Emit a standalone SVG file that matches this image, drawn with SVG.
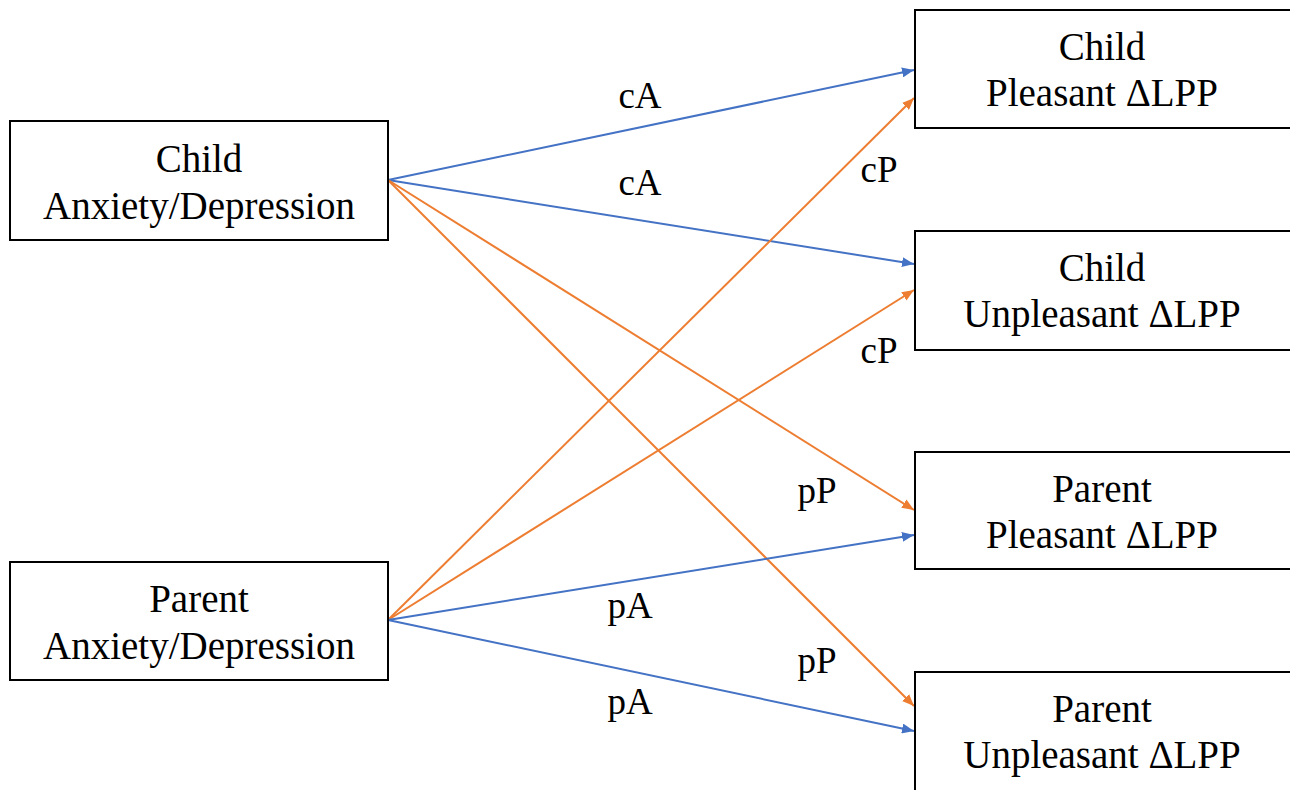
<svg xmlns="http://www.w3.org/2000/svg" width="1290" height="790" viewBox="0 0 1290 790">
<defs>
<style>
.box{fill:#fff;stroke:#000;stroke-width:2}
.t{font-family:"Liberation Serif","Times New Roman",serif;font-size:39px;fill:#000;text-anchor:middle}
.lb{font-family:"Liberation Serif","Times New Roman",serif;font-size:37px;fill:#000;text-anchor:middle}
.b{stroke:#4472C4;stroke-width:2;fill:none}
.o{stroke:#ED7D31;stroke-width:2;fill:none}
</style>
<marker id="ab" viewBox="0 0 12 10" refX="12" refY="5" markerWidth="12" markerHeight="10" markerUnits="userSpaceOnUse" orient="auto"><path d="M0,0 L12,5 L0,10 z" fill="#4472C4"/></marker>
<marker id="ao" viewBox="0 0 12 10" refX="12" refY="5" markerWidth="12" markerHeight="10" markerUnits="userSpaceOnUse" orient="auto"><path d="M0,0 L12,5 L0,10 z" fill="#ED7D31"/></marker>
</defs>
<rect width="1290" height="790" fill="#fff"/>
<g id="connectors">
<line class="b" x1="388" y1="180" x2="914" y2="70" marker-end="url(#ab)"/>
<line class="b" x1="388" y1="180" x2="914" y2="264" marker-end="url(#ab)"/>
<line class="o" x1="388" y1="180" x2="914" y2="510" marker-end="url(#ao)"/>
<line class="o" x1="388" y1="180" x2="914" y2="706" marker-end="url(#ao)"/>
<line class="o" x1="388" y1="620" x2="914" y2="98" marker-end="url(#ao)"/>
<line class="o" x1="388" y1="620" x2="914" y2="290" marker-end="url(#ao)"/>
<line class="b" x1="388" y1="620" x2="914" y2="535" marker-end="url(#ab)"/>
<line class="b" x1="388" y1="620" x2="914" y2="731" marker-end="url(#ab)"/>
<text class="lb" x="640" y="108">cA</text>
<text class="lb" x="640" y="195">cA</text>
<text class="lb" x="879" y="182">cP</text>
<text class="lb" x="879" y="363">cP</text>
<text class="lb" x="817" y="503">pP</text>
<text class="lb" x="817" y="673">pP</text>
<text class="lb" x="630" y="618">pA</text>
<text class="lb" x="630" y="714">pA</text>
</g>
<g id="child-ad">
<rect class="box" x="10" y="121" width="378" height="119"/>
<text class="t" x="199" y="172">Child</text>
<text class="t" x="199" y="219">Anxiety/Depression</text>
</g>
<g id="parent-ad">
<rect class="box" x="10" y="562" width="378" height="118"/>
<text class="t" x="199" y="612">Parent</text>
<text class="t" x="199" y="659">Anxiety/Depression</text>
</g>
<g id="child-pleasant">
<rect class="box" x="915" y="10" width="380" height="118"/>
<text class="t" x="1102" y="60">Child</text>
<text class="t" x="1102" y="106">Pleasant ΔLPP</text>
</g>
<g id="child-unpleasant">
<rect class="box" x="915" y="231" width="380" height="119"/>
<text class="t" x="1102" y="281">Child</text>
<text class="t" x="1102" y="327">Unpleasant ΔLPP</text>
</g>
<g id="parent-pleasant">
<rect class="box" x="915" y="452" width="380" height="117"/>
<text class="t" x="1102" y="502">Parent</text>
<text class="t" x="1102" y="548">Pleasant ΔLPP</text>
</g>
<g id="parent-unpleasant">
<rect class="box" x="915" y="672" width="380" height="140"/>
<text class="t" x="1102" y="722">Parent</text>
<text class="t" x="1102" y="768">Unpleasant ΔLPP</text>
</g>
</svg>
